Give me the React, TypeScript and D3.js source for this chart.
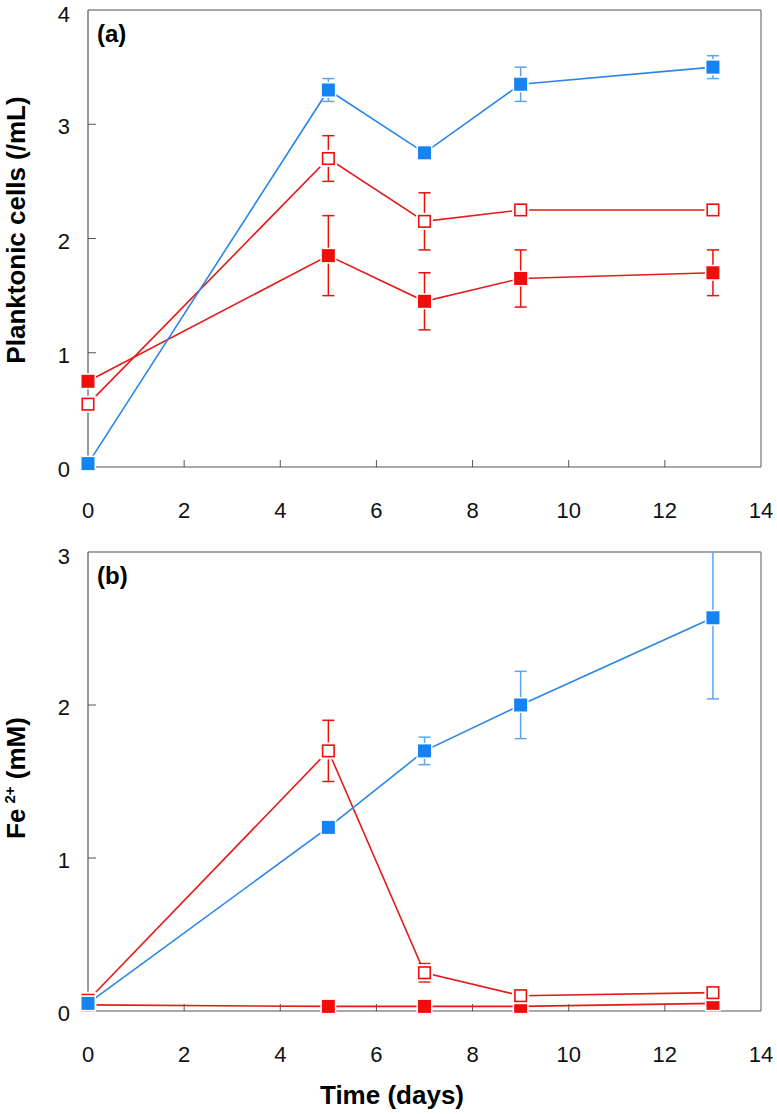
import React from "react";
import * as d3 from "d3";

const days = [0, 5, 7, 9, 13];
const xTicks = [0, 2, 4, 6, 8, 10, 12, 14];

const cellsBlue = [0.03, 3.3, 2.75, 3.35, 3.5];
const cellsBlueErr = [0, 0.1, 0, 0.15, 0.1];
const cellsRedOpen = [0.55, 2.7, 2.15, 2.25, 2.25];
const cellsRedOpenErr = [0.05, 0.2, 0.25, 0, 0];
const cellsRedFilled = [0.75, 1.85, 1.45, 1.65, 1.7];
const cellsRedFilledErr = [0, 0.35, 0.25, 0.25, 0.2];
const cellsTicks = [0, 1, 2, 3, 4];

const feBlue = [0.05, 1.2, 1.7, 2.0, 2.57];
const feBlueErr = [0, 0, 0.09, 0.22, 0.53];
const feRedOpen = [0.07, 1.7, 0.25, 0.1, 0.12];
const feRedOpenErr = [0.03, 0.2, 0.06, 0, 0];
const feRedFilled = [0.04, 0.03, 0.03, 0.03, 0.05];
const feRedFilledErr = [0, 0, 0, 0, 0];
const feTicks = [0, 1, 2, 3];

const BLUE = "#1583f2";
const BLUE_LINE = "#2a86e6";
const BLUE_ERR = "#5aa6ee";
const RED = "#f20d0d";
const RED_LINE = "#e41b1b";
const FONT = "'Liberation Sans', Arial, Helvetica, sans-serif";

type Series = { values: number[]; err: number[]; kind: "blue" | "open" | "filled" };

function Panel(props: {
  top: number; bottom: number; left: number; right: number;
  yMax: number; yTicks: number[]; series: Series[]; tag: string;
}) {
  const { top, bottom, left, right, yMax, yTicks, series, tag } = props;
  const x = d3.scaleLinear().domain([0, 14]).range([left, right]);
  const y = d3.scaleLinear().domain([0, yMax]).range([bottom, top]);
  const line = d3.line<number>().x((_, i) => x(days[i])).y((v) => y(v));
  const ms = 13;
  const cap = 6;
  return (
    <g>
      <line x1={left} x2={right} y1={top} y2={top} stroke="#888" strokeWidth={1.4} />
      <line x1={right} x2={right} y1={top} y2={bottom} stroke="#888" strokeWidth={1.4} />
      <line x1={left} x2={left} y1={top} y2={bottom} stroke="#555" strokeWidth={1.2} />
      <line x1={left} x2={right} y1={bottom} y2={bottom} stroke="#555" strokeWidth={1.2} />
      {yTicks.map((t) => (
        <g key={"y" + t}>
          {t > 0 && t < yMax && (
            <line x1={left} x2={left + 8} y1={y(t)} y2={y(t)} stroke="#555" strokeWidth={1} />
          )}
          <text x={70} y={y(t) + (t === yMax ? 12 : 10)} textAnchor="end" fontFamily={FONT} fontSize={22} fill="#111">
            {t}
          </text>
        </g>
      ))}
      {xTicks.map((t) => (
        <g key={"x" + t}>
          {t > 0 && t < 14 && (
            <line x1={x(t)} x2={x(t)} y1={bottom} y2={bottom - 7} stroke="#555" strokeWidth={1} />
          )}
          <text x={x(t)} y={bottom + 51} textAnchor="middle" fontFamily={FONT} fontSize={22} fill="#111">
            {t}
          </text>
        </g>
      ))}
      <text x={left + 9} y={top + 32} fontFamily={FONT} fontWeight="bold" fontSize={24} fill="#000">
        {tag}
      </text>
      {series.map((s, si) => {
        const lc = s.kind === "blue" ? BLUE_LINE : RED_LINE;
        const ec = s.kind === "blue" ? BLUE_ERR : RED;
        return (
          <g key={si}>
            <path d={line(s.values) || ""} fill="none" stroke={lc} strokeWidth={1.6} />
            {s.values.map((v, i) => {
              const e = s.err[i];
              if (!e) return null;
              const hi = Math.min(v + e, yMax);
              const lo = Math.max(v - e, 0);
              const cx = x(days[i]);
              return (
                <g key={"e" + i} stroke={ec} strokeWidth={1.5}>
                  <line x1={cx} x2={cx} y1={y(hi)} y2={y(lo)} />
                  {v + e <= yMax && <line x1={cx - cap} x2={cx + cap} y1={y(hi)} y2={y(hi)} />}
                  <line x1={cx - cap} x2={cx + cap} y1={y(lo)} y2={y(lo)} />
                </g>
              );
            })}
            {s.values.map((v, i) => {
              const cx = x(days[i]);
              const cy = y(v);
              if (s.kind === "open") {
                return (
                  <g key={"m" + i}>
                    <rect x={cx - ms / 2 - 2} y={cy - ms / 2 - 2} width={ms + 4} height={ms + 4} fill="#fff" />
                    <rect x={cx - ms / 2 + 0.75} y={cy - ms / 2 + 0.75} width={ms - 1.5} height={ms - 1.5} fill="#fff" stroke={RED} strokeWidth={1.6} />
                  </g>
                );
              }
              return (
                <g key={"m" + i}>
                  <rect x={cx - ms / 2 - 1.5} y={cy - ms / 2 - 1.5} width={ms + 3} height={ms + 3} fill="#fff" />
                  <rect x={cx - ms / 2} y={cy - ms / 2} width={ms} height={ms} fill={s.kind === "blue" ? BLUE : RED} />
                </g>
              );
            })}
          </g>
        );
      })}
    </g>
  );
}

export default function App() {
  const left = 88;
  const right = 761;
  return (
    <svg width={777} height={1114} style={{ position: "absolute", left: 0, top: 0, background: "#fff" }}>
      <rect x={0} y={0} width={777} height={1114} fill="#fff" />
      <Panel
        top={10} bottom={467} left={left} right={right} yMax={4} yTicks={cellsTicks} tag="(a)"
        series={[
          { values: cellsRedFilled, err: cellsRedFilledErr, kind: "filled" },
          { values: cellsRedOpen, err: cellsRedOpenErr, kind: "open" },
          { values: cellsBlue, err: cellsBlueErr, kind: "blue" },
        ]}
      />
      <Panel
        top={552} bottom={1011} left={left} right={right} yMax={3} yTicks={feTicks} tag="(b)"
        series={[
          { values: feRedFilled, err: feRedFilledErr, kind: "filled" },
          { values: feRedOpen, err: feRedOpenErr, kind: "open" },
          { values: feBlue, err: feBlueErr, kind: "blue" },
        ]}
      />
      <text transform="translate(25,230) rotate(-90)" textAnchor="middle" fontFamily={FONT} fontWeight="bold" fontSize={26} fill="#000">
        Planktonic cells (/mL)
      </text>
      <text transform="translate(25,778) rotate(-90)" textAnchor="middle" fontFamily={FONT} fontWeight="bold" fontSize={26} fill="#000">
        Fe<tspan fontSize={15} dy={-10} dx={5}>2+</tspan><tspan dy={10}> (mM)</tspan>
      </text>
      <text x={392} y={1104} textAnchor="middle" fontFamily={FONT} fontWeight="bold" fontSize={26} fill="#000">
        Time (days)
      </text>
    </svg>
  );
}
